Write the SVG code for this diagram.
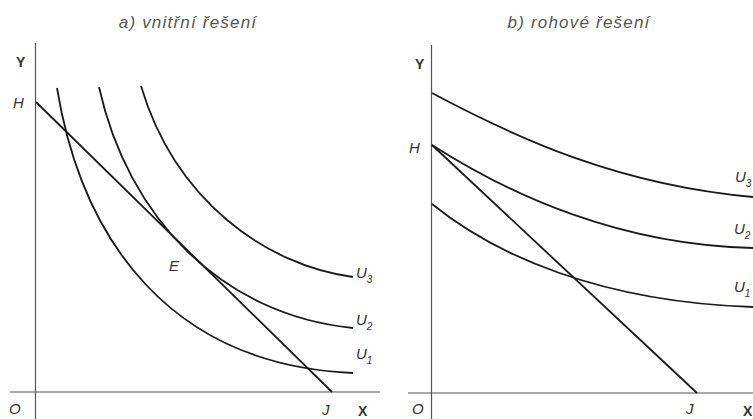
<svg xmlns="http://www.w3.org/2000/svg" width="753" height="419" viewBox="0 0 753 419">
<style>
.axis{stroke:#555;stroke-width:1.2;fill:none}
.curve{stroke:#1a1a1a;stroke-width:1.8;fill:none}
.lbl{font-family:"Liberation Sans",Arial,sans-serif;font-style:italic;font-size:15px;fill:#333}
.ax{font-family:"Liberation Sans",Arial,sans-serif;font-weight:bold;font-size:14px;fill:#333}
.title{font-family:"Liberation Sans",Arial,sans-serif;font-style:italic;font-size:17px;letter-spacing:1.2px;fill:#555;text-anchor:middle}
.sub{font-size:10px}
</style>
<rect width="753" height="419" fill="#fff"/>
<g id="panel-a">
  <text class="title" x="188" y="28">a) vnitřní řešení</text>
  <g id="axes-a">
    <line class="axis" x1="35.5" y1="43" x2="35.5" y2="419"/>
    <line class="axis" x1="10" y1="392" x2="380" y2="392"/>
    <text class="ax" x="16" y="67">Y</text>
    <text class="ax" x="358" y="416">X</text>
    <text class="lbl" x="9" y="414">O</text>
    <text class="lbl" x="322" y="415">J</text>
    <text class="lbl" x="13" y="108">H</text>
    <text class="lbl" x="169" y="271">E</text>
  </g>
  <g id="connectors-a">
    <line id="budget-a" class="curve" x1="36" y1="102" x2="332" y2="392"/>
    <path id="U1-a" class="curve" d="M57,88 C82,240 170,365 353,373"/>
    <path id="U2-a" class="curve" d="M99,87 C128,218 222,315 353,328"/>
    <path id="U3-a" class="curve" d="M141,86 C175,200 265,265 353,277"/>
  </g>
  <g id="labels-a">
    <text class="lbl" x="356" y="278">U<tspan class="sub" dy="5">3</tspan></text>
    <text class="lbl" x="356" y="325">U<tspan class="sub" dy="5">2</tspan></text>
    <text class="lbl" x="356" y="359">U<tspan class="sub" dy="5">1</tspan></text>
  </g>
</g>
<g id="panel-b">
  <text class="title" x="579" y="28">b) rohové řešení</text>
  <g id="axes-b">
    <line class="axis" x1="431.5" y1="45" x2="431.5" y2="419"/>
    <line class="axis" x1="408" y1="393" x2="753" y2="393"/>
    <text class="ax" x="415" y="69">Y</text>
    <text class="ax" x="743" y="416">X</text>
    <text class="lbl" x="412" y="414">O</text>
    <text class="lbl" x="686" y="414">J</text>
    <text class="lbl" x="409" y="153">H</text>
  </g>
  <g id="connectors-b">
    <line id="budget-b" class="curve" x1="432" y1="145" x2="697" y2="393"/>
    <path id="U3-b" class="curve" d="M432,93 C520,140 620,185 753,197"/>
    <path id="U2-b" class="curve" d="M432,145 C510,195 620,245 753,248"/>
    <path id="U1-b" class="curve" d="M432,204 C495,255 600,302 753,307"/>
  </g>
  <g id="labels-b">
    <text class="lbl" x="735" y="182">U<tspan class="sub" dy="5">3</tspan></text>
    <text class="lbl" x="734" y="234">U<tspan class="sub" dy="5">2</tspan></text>
    <text class="lbl" x="734" y="292">U<tspan class="sub" dy="5">1</tspan></text>
  </g>
</g>
</svg>
